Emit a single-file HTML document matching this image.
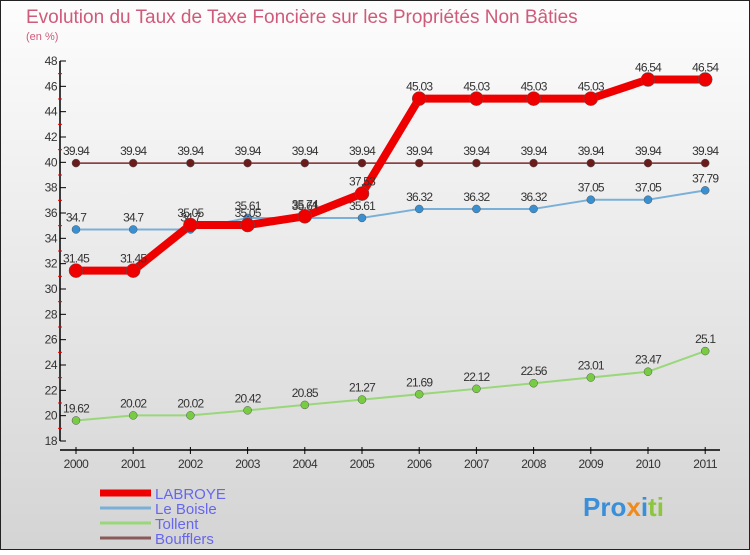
<!DOCTYPE html>
<html><head><meta charset="utf-8"><style>
body{margin:0;width:750px;height:550px;overflow:hidden;font-family:"Liberation Sans",sans-serif}
</style></head><body>
<svg width="750" height="550" xmlns="http://www.w3.org/2000/svg">
<defs><linearGradient id="bg" x1="0" y1="0" x2="0" y2="1"><stop offset="0" stop-color="#fdfdfd"/><stop offset="1" stop-color="#d4d4d4"/></linearGradient></defs>
<rect x="0" y="0" width="750" height="550" fill="url(#bg)"/>
<rect x="0.5" y="0.5" width="749" height="549" fill="none" stroke="#222"/>
<text x="26" y="23" font-size="19" fill="#d05a7a">Evolution du Taux de Taxe Foncière sur les Propriétés Non Bâties</text>
<text x="26" y="40" font-size="11" fill="#d05a7a">(en %)</text>
<g id="axes"></g>
<g id="series"></g>
<g id="legend"></g>
<text x="583" y="516" font-size="26" font-weight="bold"><tspan fill="#3a8fd8">Pro</tspan><tspan fill="#f08a1c">x</tspan><tspan fill="#3a8fd8">i</tspan><tspan fill="#8cc63f">ti</tspan></text>
</svg>
<script>
const years=["2000","2001","2002","2003","2004","2005","2006","2007","2008","2009","2010","2011"];
const yTicks=[18,20,22,24,26,28,30,32,34,36,38,40,42,44,46,48];
const labroye=[31.45,31.45,35.05,35.05,35.74,37.53,45.03,45.03,45.03,45.03,46.54,46.54];
const leBoisle=[34.7,34.7,34.7,35.61,35.61,35.61,36.32,36.32,36.32,37.05,37.05,37.79];
const tollent=[19.62,20.02,20.02,20.42,20.85,21.27,21.69,22.12,22.56,23.01,23.47,25.1];
const boufflers=[39.94,39.94,39.94,39.94,39.94,39.94,39.94,39.94,39.94,39.94,39.94,39.94];
const NS="http://www.w3.org/2000/svg";
const X=i=>76+i*57.2;
const Y=v=>441-(v-18)*(380/30);
function mk(tag,attrs,parent){const e=document.createElementNS(NS,tag);for(const k in attrs)e.setAttribute(k,attrs[k]);parent.appendChild(e);return e;}
const axes=document.getElementById('axes');
let yl=mk('line',{x1:60,y1:Y(48),x2:60,y2:Y(18),stroke:'#000','stroke-width':1.5},axes);


yTicks.forEach(v=>{
 mk('line',{x1:60,y1:Y(v),x2:66,y2:Y(v),stroke:'#000'},axes);
 mk('line',{x1:58,y1:Y(v+1),x2:62,y2:Y(v+1),stroke:'#e00'},axes).setAttribute('visibility',v<48?'visible':'hidden');
 const t=mk('text',{x:57,y:Y(v)+4,'font-size':12,'text-anchor':'end',fill:'#333','letter-spacing':'-0.5'},axes);
 t.textContent=v;
 
 
});
let xl=mk('line',{x1:60,y1:450,x2:720,y2:450,stroke:'#000','stroke-width':1.5},axes);


years.forEach((y,i)=>{
 mk('line',{x1:X(i),y1:447,x2:X(i),y2:454,stroke:'#000'},axes);
 const t=mk('text',{x:X(i),y:468,'font-size':12,'text-anchor':'middle',fill:'#333','letter-spacing':'-0.5'},axes);
 t.textContent=y;
 
 
});
const ser=document.getElementById('series');
function draw(name,data,color,dot,w,r){
 const g=mk('g',{},ser);
 
 
 const p=mk('polyline',{points:data.map((v,i)=>X(i)+','+Y(v)).join(' '),fill:'none',stroke:color,'stroke-width':w,'stroke-linejoin':'round'},g);
 
 
 data.forEach((v,i)=>{
  const c=mk('circle',{cx:X(i),cy:Y(v),r:r,fill:dot,stroke:'#555','stroke-width':0.5},g);
  
  
  const t=mk('text',{x:X(i),y:Y(v)-8,'font-size':12,'text-anchor':'middle',fill:'#333','letter-spacing':'-0.8'},g);
  t.textContent=v;
  
  
 });
}
draw('boufflers',boufflers,'#7a2a2a','#6a1c1c',1.5,4);
draw('tollent',tollent,'#99d77a','#77cc44',2,4);
draw('le-boisle',leBoisle,'#7ab0d8','#3a8fd0',2,4);
draw('labroye',labroye,'#ee0000','#ee0000',8,7);
const lg=document.getElementById('legend');
[['LABROYE','#ee0000',7],['Le Boisle','#7ab0d8',3],['Tollent','#99d77a',3],['Boufflers','#8a5a5a',3]].forEach((d,i)=>{
 const y=493+i*15;
 const l=mk('line',{x1:100,y1:y,x2:151,y2:y,stroke:d[1],'stroke-width':d[2]},lg);
 
 
 const t=mk('text',{x:155,y:y+6,'font-size':15,fill:'#6666ee'},lg);
 t.textContent=d[0];
 
 
});
</script>
</body></html>
